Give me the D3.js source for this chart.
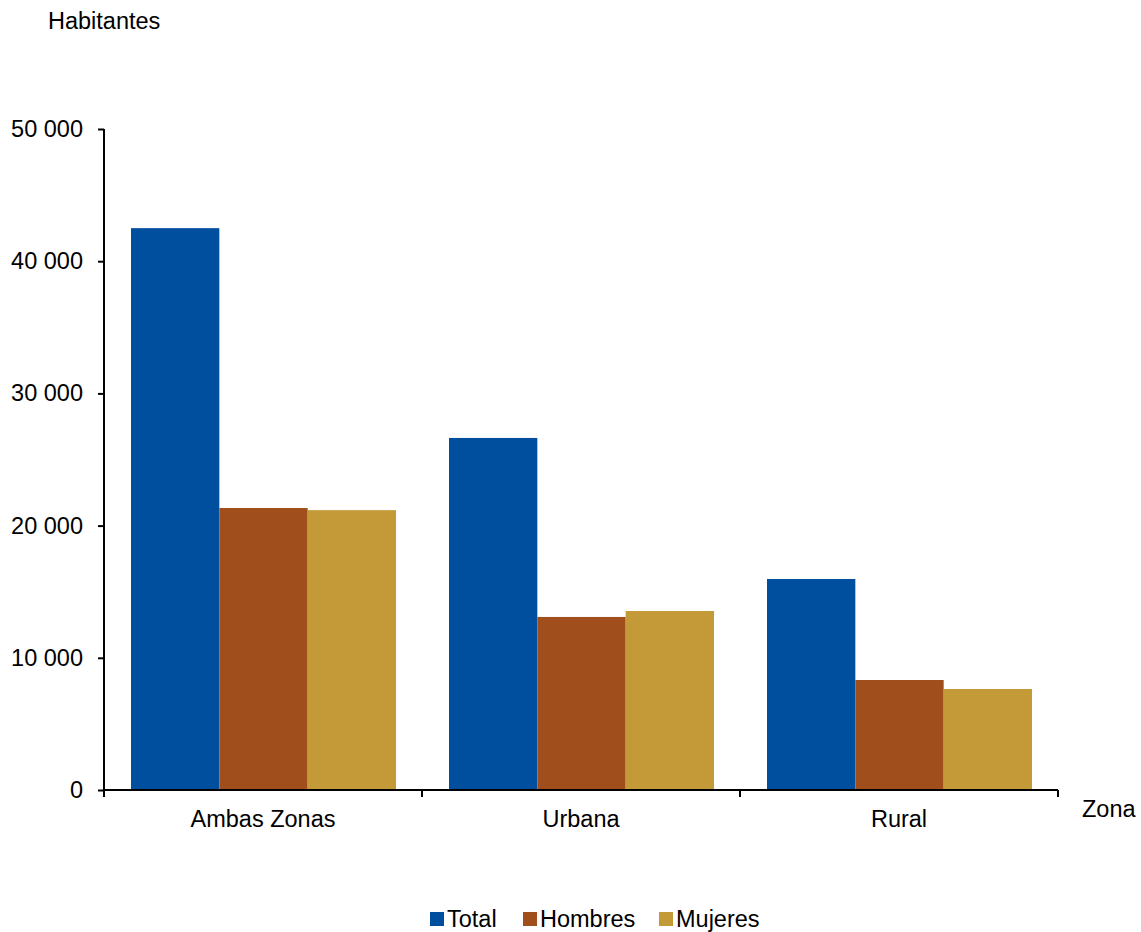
<!DOCTYPE html>
<html><head><meta charset="utf-8">
<script src="https://cdn.jsdelivr.net/npm/d3@7"></script>
<style>body{margin:0;background:#fff}text{font-family:"Liberation Sans",Arial,sans-serif;fill:#000}</style>
</head><body><svg id="c" width="1141" height="932"></svg>
<script>
const categories = ["Ambas Zonas", "Urbana", "Rural"];
const seriesNames = ["Total", "Hombres", "Mujeres"];
const totalValues = [42500, 26630, 15960];
const hombresValues = [21330, 13090, 8320];
const mujeresValues = [21170, 13540, 7640];
const colors = ["#004F9E", "#A04E1B", "#C49A39"];
const yTicks = [0, 10000, 20000, 30000, 40000, 50000];

const series = [totalValues, hombresValues, mujeresValues];
const svg = d3.select("#c");
const x0 = 104, x1 = 1058, yTop = 129, yBot = 790;
const FS = "23.5px";
const x = d3.scaleBand().domain(categories).range([x0, x1]).paddingInner(0).paddingOuter(0);
const xs = d3.scaleBand().domain(seriesNames).range([27, x.bandwidth() - 26]).padding(0);
const y = d3.scaleLinear().domain([0, 50000]).range([yBot, yTop]);
const fmt = d => d3.format(",")(d).replace(/,/g, " ");

categories.forEach((c, i) => {
  seriesNames.forEach((s, j) => {
    svg.append("rect")
      .attr("x", x(c) + xs(s)).attr("width", xs.bandwidth())
      .attr("y", y(series[j][i])).attr("height", y(0) - y(series[j][i]))
      .attr("fill", colors[j]);
  });
});

const yAxis = d3.axisLeft(y).tickValues(yTicks).tickFormat(fmt).tickSize(6).tickPadding(15);
const gy = svg.append("g").attr("transform", `translate(${x0},0)`).call(yAxis);
gy.selectAll("text").style("font-size", FS);
gy.selectAll("line,path").attr("stroke", "#000").attr("stroke-width", 2);
gy.select("path").attr("d", `M0,${yTop}V${yBot}`);

const gx = svg.append("g").attr("transform", `translate(0,${yBot})`);
gx.append("line").attr("x1", x0).attr("x2", x1).attr("stroke", "#000").attr("stroke-width", 2);
const tickPos = categories.map(c => x(c)).concat([x1]);
tickPos.forEach(p => gx.append("line").attr("x1", p).attr("x2", p).attr("y1", 0).attr("y2", 7).attr("stroke", "#000").attr("stroke-width", 2));
categories.forEach(c => gx.append("text").attr("x", x(c) + x.bandwidth() / 2).attr("y", 37)
  .attr("text-anchor", "middle").style("font-size", FS).text(c));

svg.append("text").attr("x", 48).attr("y", 29).style("font-size", FS).text("Habitantes");
svg.append("text").attr("x", 1082).attr("y", 817).style("font-size", FS).text("Zona");

const legX = [430, 523, 659];
seriesNames.forEach((s, j) => {
  svg.append("rect").attr("x", legX[j]).attr("y", 912).attr("width", 14).attr("height", 14).attr("fill", colors[j]);
  svg.append("text").attr("x", legX[j] + 17).attr("y", 927).style("font-size", FS).text(s);
});
</script></body></html>
